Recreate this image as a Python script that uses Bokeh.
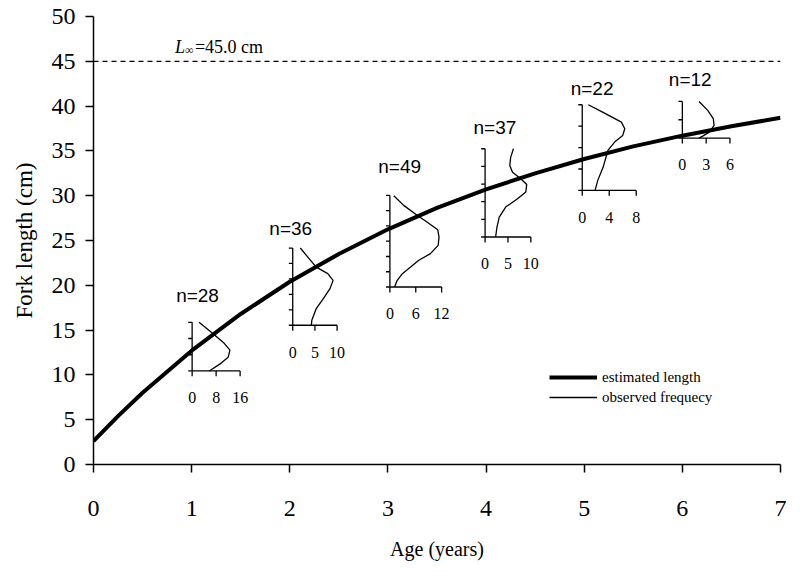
from bokeh.plotting import figure
from bokeh.models import FixedTicker, Legend, LegendItem, Range1d, Span
from bokeh.core.properties import value
from bokeh.embed import file_html
from bokeh.resources import INLINE

# ---- fitted growth curve ----
ages = [0, 0.25, 0.5, 1.0, 1.5, 2.0, 2.5, 3.0, 3.5, 4.0, 4.5, 5.0, 5.5, 6.0, 6.5, 7.0]
fitted = [2.6, 5.4, 8.0, 12.7, 16.8, 20.4, 23.5, 26.25, 28.65, 30.7, 32.5, 34.1, 35.5, 36.7, 37.75, 38.7]
L_inf = 45.0

x_ticks = [0, 1, 2, 3, 4, 5, 6, 7]
y_ticks = [0, 5, 10, 15, 20, 25, 30, 35, 40, 45, 50]

# ---- observed length-frequency insets ----
inset_age = [1.005, 2.03, 3.02, 3.99, 4.98, 6.0]
inset_n = [28, 36, 49, 37, 22, 12]
inset_freq_ticks = [[0, 8, 16], [0, 5, 10], [0, 6, 12], [0, 5, 10], [0, 4, 8], [0, 3, 6]]
inset_width = [0.489, 0.452, 0.527, 0.466, 0.55, 0.485]
inset_ybot = [10.44, 15.54, 19.81, 25.39, 30.59, 36.43]
inset_ytop = [15.87, 24.16, 30.03, 35.24, 40.15, 40.52]
inset_nticks = [4, 6, 7, 6, 5, 3]

obs_len = [
    [15.87, 14.64, 13.52, 12.77, 11.96, 11.29, 10.44],
    [24.16, 23.15, 22.03, 21.30, 20.55, 19.63, 18.51, 17.40, 16.09, 15.54],
    [30.0, 28.92, 27.81, 27.06, 26.21, 25.38, 24.45, 23.53, 22.79, 22.04, 21.30, 20.56, 19.81],
    [35.24, 34.31, 33.38, 32.63, 31.90, 31.26, 30.40, 29.67, 28.73, 27.62, 26.50, 25.39],
    [40.15, 39.22, 38.21, 37.47, 36.73, 35.98, 35.05, 33.19, 31.71, 30.59],
    [40.52, 39.52, 38.59, 37.85, 37.10, 36.62, 36.43],
]
obs_freq = [
    [2.3, 6.8, 10.7, 12.6, 12.0, 9.6, 5.7],
    [1.7, 3.4, 5.3, 7.9, 9.1, 8.4, 6.9, 5.3, 4.3, 4.2],
    [0.9, 3.2, 6.3, 8.6, 11.1, 11.4, 11.2, 9.4, 6.7, 4.8, 2.9, 1.7, 1.1],
    [6.2, 5.6, 5.4, 6.0, 7.8, 9.1, 8.9, 7.1, 4.5, 3.1, 2.6, 2.3],
    [0.9, 3.3, 5.8, 6.3, 6.0, 4.8, 3.8, 3.1, 2.3, 1.9],
    [2.1, 3.2, 3.9, 4.0, 3.4, 2.5, 2.1],
]
n_label_x = [1.06, 2.01, 3.12, 4.09, 5.08, 6.08]
n_label_y = [18.88, 26.32, 33.27, 37.65, 41.94, 42.94]

SERIF = "Liberation Serif"
SANS = "Liberation Sans"

p = figure(width=795, height=574, output_backend="svg", toolbar_location=None,
           x_range=Range1d(0, 7), y_range=Range1d(0, 50),
           frame_width=687, frame_height=448,
           min_border_left=93, min_border_top=16, min_border_right=15, min_border_bottom=110)
p.outline_line_color = None
p.xgrid.visible = False
p.ygrid.visible = False
p.background_fill_color = "white"
p.border_fill_color = "white"

for ax in (p.xaxis[0], p.yaxis[0]):
    ax.axis_line_color = "black"
    ax.axis_line_width = 1.5
    ax.major_tick_line_color = "black"
    ax.major_tick_line_width = 1.5
    ax.major_tick_out = 8
    ax.major_tick_in = 0
    ax.minor_tick_line_color = None
    ax.major_label_text_font = SERIF
    ax.major_label_text_font_size = "24px"
    ax.major_label_text_color = "black"
    ax.axis_label_text_font = SERIF
    ax.axis_label_text_font_style = "normal"
    ax.axis_label_text_color = "black"

p.xaxis.ticker = FixedTicker(ticks=x_ticks)
p.yaxis.ticker = FixedTicker(ticks=y_ticks)
p.xaxis.axis_label = "Age (years)"
p.yaxis.axis_label = "Fork length (cm)"
p.xaxis.axis_label_text_font_size = "20px"
p.yaxis.axis_label_text_font_size = "23px"
p.xaxis.major_label_standoff = 28
p.yaxis.major_label_standoff = 10
p.xaxis.axis_label_standoff = 19
p.yaxis.axis_label_standoff = 12

# asymptote
p.add_layout(Span(location=L_inf, dimension="width", line_color="black",
                  line_width=1.2, line_dash="5 4"))

# L-infinity label
lx = 0.83
ly = 46.6
p.text(x=[lx], y=[ly], text=["L"], text_font=value(SERIF), text_font_size="18px",
       text_font_style="italic", text_align="left", text_baseline="alphabetic", text_color="black")
p.text(x=[lx], y=[ly - 0.35], text=["\u221e"], text_font=value(SERIF), text_font_size="12px",
       text_align="left", text_baseline="alphabetic", text_color="black", x_offset=10)
p.text(x=[lx], y=[ly], text=["=%.1f cm" % L_inf], text_font=value(SERIF), text_font_size="18px",
       text_align="left", text_baseline="alphabetic", text_color="black", x_offset=20)

# insets: axes, ticks, labels
tick_len_x = 0.04
tick_len_y = 0.6
vx0, vy0, vx1, vy1 = [], [], [], []
lab_x, lab_y, lab_t = [], [], []
curves_x, curves_y = [], []
for i in range(len(inset_age)):
    a = inset_age[i]
    w = inset_width[i]
    yb = inset_ybot[i]
    yt = inset_ytop[i]
    fmax = inset_freq_ticks[i][-1]
    vx0 += [a, a]; vy0 += [yb, yb]; vx1 += [a, a + w]; vy1 += [yt, yb]
    nt = inset_nticks[i]
    for k in range(nt):
        yy = yb + (yt - yb) * k / (nt - 1)
        vx0.append(a - tick_len_x); vy0.append(yy); vx1.append(a); vy1.append(yy)
    for t in inset_freq_ticks[i]:
        xx = a + w * t / fmax
        vx0.append(xx); vy0.append(yb); vx1.append(xx); vy1.append(yb - tick_len_y)
        lab_x.append(xx); lab_y.append(yb - 3.0); lab_t.append(str(t))
    curves_x.append([a + w * f / fmax for f in obs_freq[i]])
    curves_y.append(obs_len[i])

p.segment(x0=vx0, y0=vy0, x1=vx1, y1=vy1, line_color="black", line_width=1.3)
obs = p.multi_line(xs=curves_x, ys=curves_y, line_color="black", line_width=1.3)
p.text(x=lab_x, y=lab_y, text=lab_t, text_font=value(SERIF), text_font_size="16px",
       text_align="center", text_baseline="middle", text_color="black")
p.text(x=n_label_x, y=n_label_y, text=["n=%d" % n for n in inset_n], text_font=value(SANS),
       text_font_size="19px", text_align="center", text_baseline="middle", text_color="black")

# fitted curve
est = p.line(ages, fitted, line_color="black", line_width=4)

legend = Legend(items=[LegendItem(label="estimated length", renderers=[est]),
                       LegendItem(label="observed frequecy", renderers=[obs])],
                location=(456, 57), orientation="vertical",
                glyph_width=48, glyph_height=20, label_height=20, label_standoff=5,
                spacing=0, padding=0, margin=0,
                label_text_font=SERIF, label_text_font_size="15px", label_text_color="black",
                border_line_color=None, background_fill_alpha=0)
p.add_layout(legend)

open("out.html", "w").write(file_html(p, INLINE))
